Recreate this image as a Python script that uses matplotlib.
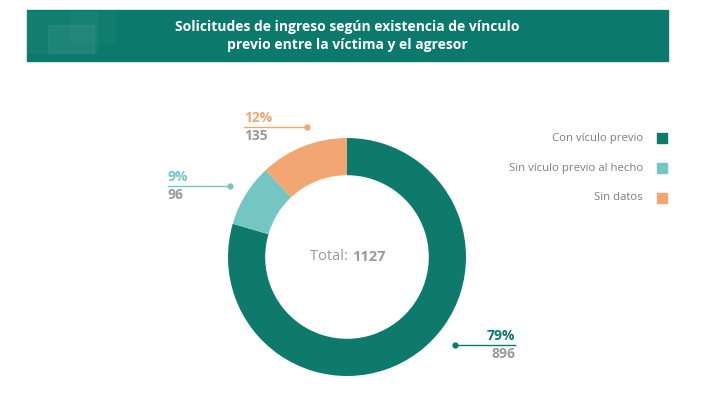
import matplotlib.pyplot as plt
from matplotlib.patches import Rectangle

# --- datos ---
categorias = ["Con vículo previo", "Sin vículo previo al hecho", "Sin datos"]
valores = [896, 96, 135]
porcentajes = ["79%", "9%", "12%"]
colores = ["#0E7A6C", "#74C6C3", "#F2A672"]
titulo = "Solicitudes de ingreso según existencia de vínculo\nprevio entre la víctima y el agresor"
total = sum(valores)

W, H = 703, 397
GRIS = "#9A9A9A"
plt.rcParams['font.family'] = ['Open Sans', 'DejaVu Sans']

fig = plt.figure(figsize=(W / 100, H / 100), dpi=100)

# capa de fondo en pixeles para textos y decoracion
bg = fig.add_axes([0, 0, 1, 1])
bg.set_xlim(0, W)
bg.set_ylim(H, 0)
bg.axis('off')

# banner del titulo
bg.add_patch(Rectangle((27, 10), 641, 51, color="#0B7A6C", zorder=1))
bg.add_patch(Rectangle((27, 12), 70, 40, color="white", alpha=0.03, zorder=2))
bg.add_patch(Rectangle((48, 25), 46, 28, color="white", alpha=0.05, zorder=2))
bg.add_patch(Rectangle((70, 10), 45, 32, color="white", alpha=0.025, zorder=2))
bg.text(347, 36, titulo, color="white", fontsize=10, fontweight="bold",
        ha="center", va="center", linespacing=1.35, zorder=3)

# dona
ax = fig.add_axes([(347 - 120) / W, (H - 257 - 120) / H, 240 / W, 240 / H])
ax.pie(valores, colors=colores, startangle=90, counterclock=False,
       radius=119 / 120, wedgeprops=dict(width=0.31, edgecolor="none"))
ax.set_xlim(-1, 1)
ax.set_ylim(-1, 1)
ax.set_aspect('auto')
ax.axis('off')

bg.text(352, 257, "Total: ", color=GRIS, fontsize=10.5, ha="right", va="center")
bg.text(352, 257, str(total), color=GRIS, fontsize=10.5, fontweight="bold",
        ha="left", va="center")

# etiquetas con linea guia: (x texto, y linea, x punto, alineacion)
etiquetas = [
    (515, 345, 455, "right"),
    (168, 186, 230, "left"),
    (244, 127, 307, "left"),
]
for (xt, yl, xp, ha), pct, val, col in zip(etiquetas, porcentajes, valores, colores):
    bg.plot([xt, xp], [yl, yl], color=col, lw=1, zorder=3)
    bg.plot([xp], [yl], "o", color=col, ms=3.5, zorder=3)
    bg.text(xt, yl - 2, pct, color=col, fontsize=10, fontweight="bold", ha=ha, va="bottom")
    bg.text(xt, yl + 2, str(val), color=GRIS, fontsize=10, fontweight="bold", ha=ha, va="top")

# leyenda
for i, (cat, col) in enumerate(zip(categorias, colores)):
    y = 138 + 30 * i
    bg.text(643, y, cat, color="#7F7F7F", fontsize=8.2, ha="right", va="center")
    bg.add_patch(Rectangle((657, y - 5), 10, 10, color=col))

fig.savefig("out.png", dpi=100)
